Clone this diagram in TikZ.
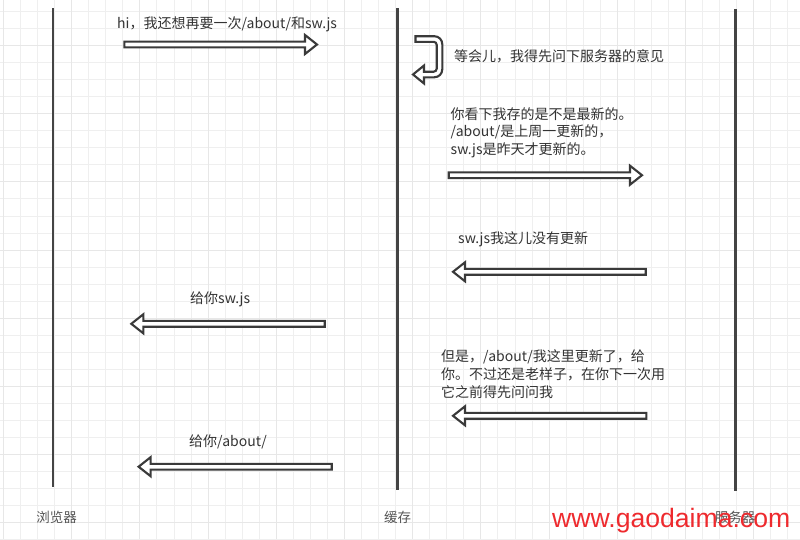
\documentclass[tikz,border=0pt]{standalone}
\usepackage{fontspec}
\setmainfont{Noto Sans CJK SC}
\newfontfamily\wmfont{Liberation Sans}
\usetikzlibrary{calc}
\definecolor{gridminor}{HTML}{EFEFEF}
\definecolor{gridmajor}{HTML}{E7E7E7}
\definecolor{lifec}{HTML}{444444}
\definecolor{arrc}{HTML}{3A3A3A}
\definecolor{textc}{HTML}{333333}
\definecolor{labc}{HTML}{555555}
\definecolor{wmc}{HTML}{EE2A2E}
\newcommand\blockarr[2]{%
  \draw[blk] let \p1=(#1), \p2=(#2), \n1={sign(\x2-\x1)} in
    (\x1,\y1+2.9pt) -- (\x2-\n1*12pt,\y1+2.9pt) -- (\x2-\n1*12pt,\y1+9.5pt)
    -- (\x2,\y1) -- (\x2-\n1*12pt,\y1-9.5pt) -- (\x2-\n1*12pt,\y1-2.9pt)
    -- (\x1,\y1-2.9pt) -- cycle;}
\begin{document}
\begin{tikzpicture}[x=1pt,y=-1pt,
  life/.style={draw=lifec, line width=2.5pt},
  blk/.style={draw=arrc, fill=white, line width=2.1pt, line join=miter},
  msg/.style={anchor=base west, inner sep=0pt, text=textc, font=\fontsize{14}{17.4}\selectfont},
  lab/.style={anchor=base, inner sep=0pt, text=labc, font=\fontsize{13.5}{16}\selectfont}]
\useasboundingbox (0,0) rectangle (800,539);
\fill[white] (0,0) rectangle (800,539);
\begin{scope}
\clip (0,0) rectangle (800,539);
\foreach \k in {0,...,46} \draw[gridminor, line width=1pt] ({3.5+17.05*\k},0) -- ++(0,539);
\foreach \k in {0,...,31} \draw[gridminor, line width=1pt] (0,{11.4+17.05*\k}) -- ++(800,0);
\foreach \k in {0,...,11} \draw[gridmajor, line width=1.1pt] ({3.5+68.2*\k},0) -- ++(0,539);
\foreach \k in {0,...,7} \draw[gridmajor, line width=1.1pt] (0,{45.5+68.2*\k}) -- ++(800,0);
\end{scope}

% lifelines
\coordinate (btop) at (53,8);    \coordinate (bbot) at (53,487);
\coordinate (ctop) at (397.3,8); \coordinate (cbot) at (397.3,490);
\coordinate (stop) at (735.7,9); \coordinate (sbot) at (735.7,491);
\draw[life] (btop) -- (bbot);
\draw[life] (ctop) -- (cbot);
\draw[life] (stop) -- (sbot);

\node[lab] (lbrowser) at (56.7,522) {浏览器};
\node[lab] (lcache) at (397.5,522) {缓存};
\node[lab] (lserver) at (735,522) {服务器};

% messages
\node[msg] (t1) at (117,28.8) {hi，我还想再要一次/about/和sw.js};
\coordinate (m1s) at (124.3,44.5); \coordinate (m1e) at (317,44.5);
\blockarr{m1s}{m1e}

\node[msg] (t2) at (454,61) {等会儿，我得先问下服务器的意见};
\draw[blk] (415.5,36.2) [rounded corners=8pt] -- (442.3,36.2) -- (442.3,77.3)
  [sharp corners] -- (424,77.3) -- (424,83.5) -- (413,74.5) -- (424,65.5) -- (424,71.7)
  [rounded corners=3pt] -- (436.7,71.7) -- (436.7,41.8)
  [sharp corners] -- (415.5,41.8) -- cycle;

\node[msg, font=\fontsize{14}{17.35}\selectfont] (t3) at (450.5,119.3)
  {\begin{tabular}[t]{@{}l@{}}你看下我存的是不是最新的。\\/about/是上周一更新的，\\sw.js是昨天才更新的。\end{tabular}};
\coordinate (m2s) at (448.7,175.2); \coordinate (m2e) at (642,175.2);
\blockarr{m2s}{m2e}

\node[msg] (t4) at (458,243.3) {sw.js我这儿没有更新};
\coordinate (m3s) at (645.7,271.8); \coordinate (m3e) at (453,271.8);
\blockarr{m3s}{m3e}

\node[msg] (t6) at (190,303.3) {给你sw.js};
\coordinate (m5s) at (324.7,323.8); \coordinate (m5e) at (131.3,323.8);
\blockarr{m5s}{m5e}

\node[msg, font=\fontsize{14}{18}\selectfont] (t5) at (441,361.7)
  {\begin{tabular}[t]{@{}l@{}}但是，/about/我这里更新了，给\\你。不过还是老样子，在你下一次用\\它之前得先问问我\end{tabular}};
\coordinate (m4s) at (646.3,415.8); \coordinate (m4e) at (453,415.8);
\blockarr{m4s}{m4e}

\node[msg] (t7) at (189,446) {给你/about/};
\coordinate (m6s) at (331.7,466.7); \coordinate (m6e) at (138.6,466.7);
\blockarr{m6s}{m6e}

% watermark
\node[anchor=base west, inner sep=0pt, text=wmc, font=\wmfont\fontsize{26.6}{30}\selectfont] (wm) at (552,527.5) {www.gaodaima.com};
\end{tikzpicture}
\end{document}
